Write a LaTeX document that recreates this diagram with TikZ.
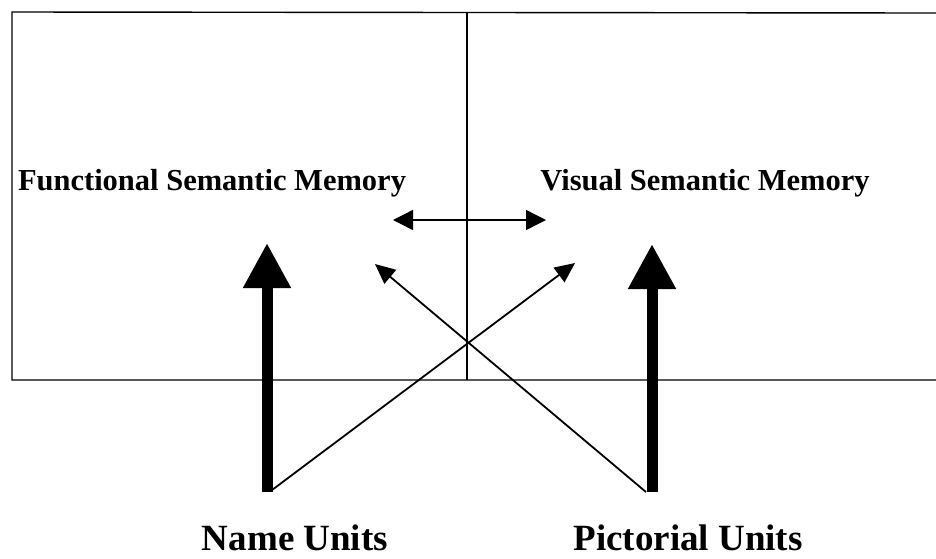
\documentclass[tikz,border=0pt]{standalone}
\usepackage{fontspec}
\setmainfont{Liberation Serif}
\usetikzlibrary{arrows.meta}
\tikzset{
  frame/.style={line width=1.4pt, black},
  biglabel/.style={font=\fontsize{30.5}{34}\selectfont\bfseries, inner sep=0pt, anchor=base},
  unitlabel/.style={font=\fontsize{37}{42}\selectfont\bfseries, inner sep=0pt, anchor=base},
  thickarrow/.style={line width=11pt, -{Triangle[width=45pt,length=45pt]}},
  thinarrow/.style={line width=1.8pt, -{Triangle[width=18pt,length=20pt]}},
  dblarrow/.style={line width=1.4pt, {Triangle[width=20pt,length=20pt]}-{Triangle[width=20pt,length=20pt]}}
}
\begin{document}
\begin{tikzpicture}[x=1pt,y=-1pt]
\useasboundingbox[fill=white] (0,0) rectangle (936,558);
% frame
\coordinate (tl) at (12,12);
\coordinate (tr) at (936,13);
\coordinate (bl) at (12,380);
\coordinate (br) at (936,380);
\coordinate (dt) at (467,12);
\coordinate (db) at (467,380);
\draw[frame] (tr) -- (tl) -- (bl) -- (br);
\draw[frame] (dt) -- (db);
% labels
\node[biglabel] (fsm) at (212,190) {Functional Semantic Memory};
\node[biglabel] (vsm) at (705,190) {Visual Semantic Memory};
\node[unitlabel] (nu) at (295,550) {Name Units};
\node[unitlabel] (pu) at (688,550) {Pictorial Units};
% arrow endpoints
\coordinate (dl) at (393,220);
\coordinate (dr) at (546,220);
\coordinate (nb) at (267,492);
\coordinate (nt) at (267,243);
\coordinate (pb) at (652,492);
\coordinate (pt) at (652,244);
\coordinate (ns) at (272,490);
\coordinate (ne) at (575,263);
\coordinate (ps) at (646,492);
\coordinate (pe) at (375,264);
% arrows
\draw[dblarrow] (dl) -- (dr);
\draw[thinarrow] (ns) -- (ne);
\draw[thinarrow] (ps) -- (pe);
\draw[thickarrow] (nb) -- (nt);
\draw[thickarrow] (pb) -- (pt);
\end{tikzpicture}
\end{document}
